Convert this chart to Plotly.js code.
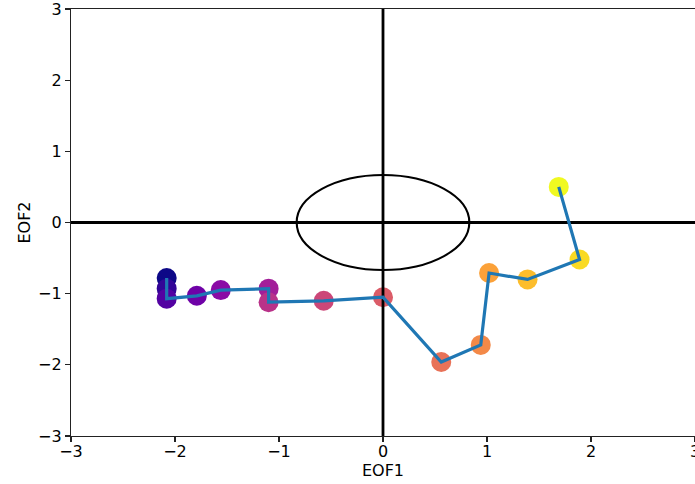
<!DOCTYPE html>
<html>
<head>
<meta charset="utf-8">
<script src="https://cdn.plot.ly/plotly-3.0.1.min.js"></script>
<style>
  html, body { margin: 0; padding: 0; background: #ffffff; }
  #chart { width: 695px; height: 484px; }
</style>
</head>
<body>
<div id="chart"></div>
<script>
// Trajectory in the EOF1/EOF2 phase space, one point per step
const eof1 = [-2.08, -2.08, -2.08, -1.79, -1.56, -1.10, -1.10, -0.57, 0.00, 0.56, 0.94, 1.02, 1.39, 1.89, 1.69];
const eof2 = [-0.78, -0.93, -1.07, -1.03, -0.95, -0.93, -1.12, -1.10, -1.05, -1.96, -1.72, -0.71, -0.80, -0.52, 0.50];
const step = eof1.map((_, i) => i);

// Reference ellipse half-widths along EOF1 and EOF2
const ellipseRx = 0.83;
const ellipseRy = 0.667;

// Axis range and tick values
const axisRange = [-3, 3];
const tickVals = [-3, -2, -1, 0, 1, 2, 3];
const tickText = ['\u22123', '\u22122', '\u22121', '0', '1', '2', '3'];

// Plasma colour map stops
const plasma = [
  [0.0, '#0d0887'], [0.1, '#41049d'], [0.2, '#6a00a8'], [0.3, '#8f0da4'],
  [0.4, '#b12a90'], [0.5, '#cc4778'], [0.6, '#e16462'], [0.7, '#f2844b'],
  [0.8, '#fca636'], [0.9, '#fcce25'], [1.0, '#f0f921']
];

const font = { family: 'DejaVu Sans, sans-serif', size: 16, color: '#000000' };

const points = {
  x: eof1, y: eof2, mode: 'markers', type: 'scatter',
  marker: {
    size: 20, color: step, colorscale: plasma,
    cmin: 0, cmax: step.length - 1, line: { width: 0 }
  },
  hoverinfo: 'skip', showlegend: false
};

// Cross through the origin, drawn over the markers
const hLine = {
  x: axisRange, y: [0, 0], mode: 'lines', type: 'scatter',
  line: { color: '#000000', width: 2.8 }, hoverinfo: 'skip', showlegend: false
};
const vLine = {
  x: [0, 0], y: axisRange, mode: 'lines', type: 'scatter',
  line: { color: '#000000', width: 2.8 }, hoverinfo: 'skip', showlegend: false
};

const path = {
  x: eof1, y: eof2, mode: 'lines', type: 'scatter',
  line: { color: '#1f77b4', width: 3.2 }, hoverinfo: 'skip', showlegend: false
};

const axisCommon = {
  range: axisRange, tickvals: tickVals, ticktext: tickText,
  showgrid: false, zeroline: false,
  showline: true, linecolor: '#222222', linewidth: 1.1, mirror: true,
  ticks: 'outside', ticklen: 5, tickwidth: 1.1, tickcolor: '#222222',
  tickfont: font, ticklabeloverflow: 'allow'
};

const layout = {
  width: 695, height: 484,
  margin: { l: 71, r: 0, t: 9, b: 48, pad: 0 },
  paper_bgcolor: '#ffffff', plot_bgcolor: '#ffffff',
  font: font,
  xaxis: Object.assign({}, axisCommon, {
    ticklabelstandoff: -4,
    title: { text: 'EOF1', font: font, standoff: 0 }
  }),
  yaxis: Object.assign({}, axisCommon, { title: { text: 'EOF2', font: font, standoff: 3 } }),
  shapes: [{
    type: 'circle', xref: 'x', yref: 'y', layer: 'above',
    x0: -ellipseRx, x1: ellipseRx, y0: -ellipseRy, y1: ellipseRy,
    line: { color: '#000000', width: 2.1 }
  }],
  showlegend: false
};

Plotly.newPlot('chart', [points, hLine, vLine, path], layout, { displayModeBar: false, staticPlot: true });
</script>
</body>
</html>
